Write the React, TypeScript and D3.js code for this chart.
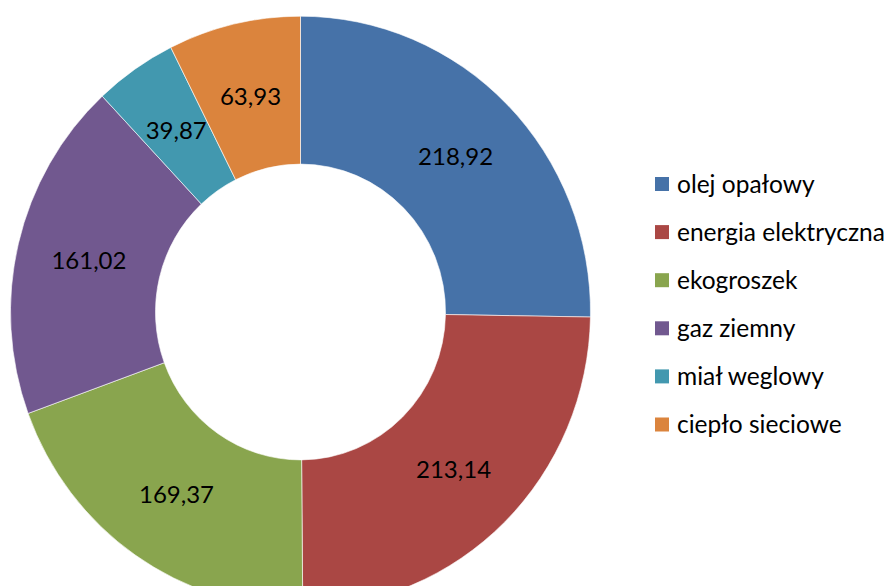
import React from "react";
import * as d3 from "d3";

const categories = ["olej opałowy", "energia elektryczna", "ekogroszek", "gaz ziemny", "miał weglowy", "ciepło sieciowe"];
const values = [218.92, 213.14, 169.37, 161.02, 39.87, 63.93];
const labels = ["218,92", "213,14", "169,37", "161,02", "39,87", "63,93"];
const colors = ["#4672A8", "#AA4744", "#89A54E", "#71588F", "#4298AF", "#DB843D"];

const W = 888;
const H = 586;
const cx = 300.5;
const cy = 312;
const rOuter = 290;
const rInner = 145;
const sy = 1.02;
const FONT = "Lato, 'Liberation Sans', sans-serif";

export default function App() {
  const data = categories.map((c, i) => ({ c, v: values[i], l: labels[i], col: colors[i] }));
  const pie = d3.pie<any>().sort(null).value((d) => d.v).startAngle(0).endAngle(2 * Math.PI);
  const arcs = pie(data);
  const arc = d3.arc<any>().innerRadius(rInner).outerRadius(rOuter);
  const legendY = d3.scaleLinear().domain([0, 1]).range([184, 232.1]);

  return (
    <svg width={W} height={H} style={{ position: "absolute", left: 0, top: 0, background: "#fff" }}>
      <g transform={`translate(${cx},${cy}) scale(1,${sy})`}>
        {arcs.map((a, i) => (
          <path key={i} d={arc(a) as string} fill={a.data.col} stroke="#fff" strokeWidth={0.6} />
        ))}
      </g>
      {arcs.map((a, i) => {
        const [x, y] = arc.centroid(a);
        return (
          <text key={i} x={cx + x} y={cy + y * sy} dy="0.36em" textAnchor="middle" fontFamily={FONT} fontSize={24} fill="#000">
            {a.data.l}
          </text>
        );
      })}
      {categories.map((c, i) => (
        <g key={c} transform={`translate(655,${legendY(i)})`}>
          <rect x={0} y={-7} width={14} height={14} fill={colors[i]} />
          <text x={22} y={0} dy="0.36em" fontFamily={FONT} fontSize={24.5} fill="#000">
            {c}
          </text>
        </g>
      ))}
    </svg>
  );
}
